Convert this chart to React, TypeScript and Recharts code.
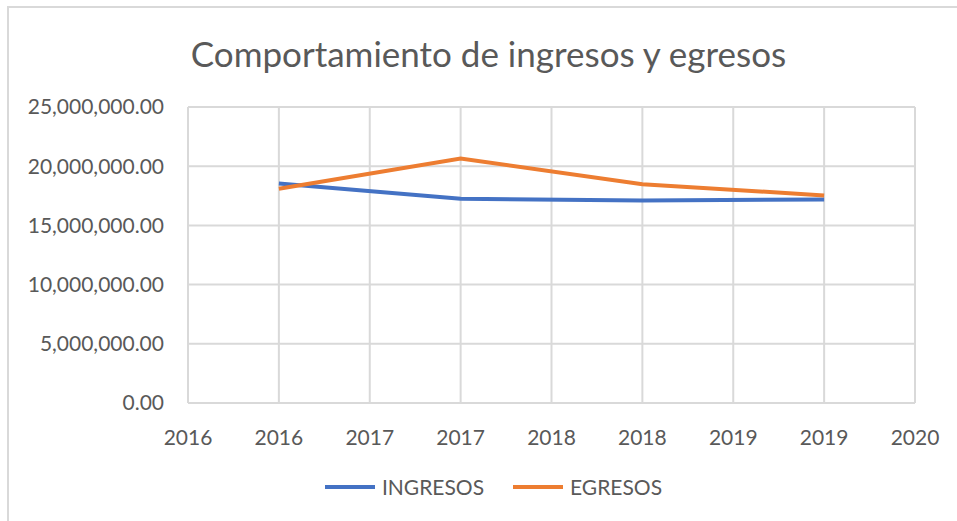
import React from 'react';
import { LineChart, Line, XAxis, YAxis, CartesianGrid, Legend } from 'recharts';

const years = ['2016', '2017', '2018', '2019'];
const ingresos = [18540000, 17250000, 17100000, 17190000];
const egresos = [18090000, 20650000, 18480000, 17530000];
const xTickLabels = ['2016', '2016', '2017', '2017', '2018', '2018', '2019', '2019', '2020'];
const xPositions = [1, 3, 5, 7];
const yTicks = [0, 5000000, 10000000, 15000000, 20000000, 25000000];
const seriesNames = ['INGRESOS', 'EGRESOS'];
const seriesColors = ['#4472C4', '#ED7D31'];

const data = years.map((y, i) => ({ year: y, x: xPositions[i], INGRESOS: ingresos[i], EGRESOS: egresos[i] }));

const FONT = 'Lato, "Liberation Sans", sans-serif';
const TEXT = '#595959';

const fmt = (v: number) =>
  v.toLocaleString('en-US', { minimumFractionDigits: 2, maximumFractionDigits: 2 });

const renderLegend = () => (
  <div style={{ display: 'flex', justifyContent: 'center', alignItems: 'center', fontFamily: FONT, fontSize: 21, color: TEXT, lineHeight: '24px' }}>
    {seriesNames.map((name, i) => (
      <div key={name} style={{ display: 'flex', alignItems: 'center', marginRight: i === 0 ? 29 : 0 }}>
        <div style={{ width: 50, height: 4, background: seriesColors[i], marginRight: 7 }} />
        <span>{name}</span>
      </div>
    ))}
  </div>
);

export default function App() {
  return (
    <div style={{ position: 'absolute', left: 0, top: 0, width: 957, height: 521, background: '#fff', overflow: 'hidden' }}>
      <div style={{ position: 'absolute', left: 7, top: 6, width: 960, height: 530, borderLeft: '2px solid #D9D9D9', borderTop: '2px solid #D9D9D9' }} />
      <div style={{ position: 'absolute', left: 0, top: 32, width: 977, textAlign: 'center', fontFamily: FONT, fontSize: 35, color: TEXT }}>
        Comportamiento de ingresos y egresos
      </div>
      <div style={{ position: 'absolute', left: 0, top: 0 }}>
        <LineChart width={957} height={521} data={data} margin={{ top: 107, right: 42, bottom: 46, left: 0 }}>
          <CartesianGrid stroke="#D9D9D9" strokeWidth={2} vertical={true} horizontal={true} />
          <XAxis
            dataKey="x"
            type="number"
            domain={[0, 8]}
            ticks={[0, 1, 2, 3, 4, 5, 6, 7, 8]}
            tickFormatter={(v: number) => xTickLabels[v]}
            axisLine={{ stroke: '#D9D9D9', strokeWidth: 2 }}
            tickLine={false}
            tick={{ fill: TEXT, fontFamily: FONT, fontSize: 21 }}
            tickMargin={21}
            height={48}
            interval={0}
          />
          <YAxis
            type="number"
            domain={[0, 25000000]}
            ticks={yTicks}
            tickFormatter={fmt}
            axisLine={false}
            tickLine={false}
            tick={{ fill: TEXT, fontFamily: FONT, fontSize: 21 }}
            width={188}
            tickMargin={18}
            interval={0}
          />
          <Legend verticalAlign="bottom" content={renderLegend} wrapperStyle={{ top: 475, left: 36 }} />
          <Line type="linear" dataKey="INGRESOS" stroke={seriesColors[0]} strokeWidth={4} dot={false} isAnimationActive={false} />
          <Line type="linear" dataKey="EGRESOS" stroke={seriesColors[1]} strokeWidth={4} dot={false} isAnimationActive={false} />
        </LineChart>
      </div>
    </div>
  );
}
